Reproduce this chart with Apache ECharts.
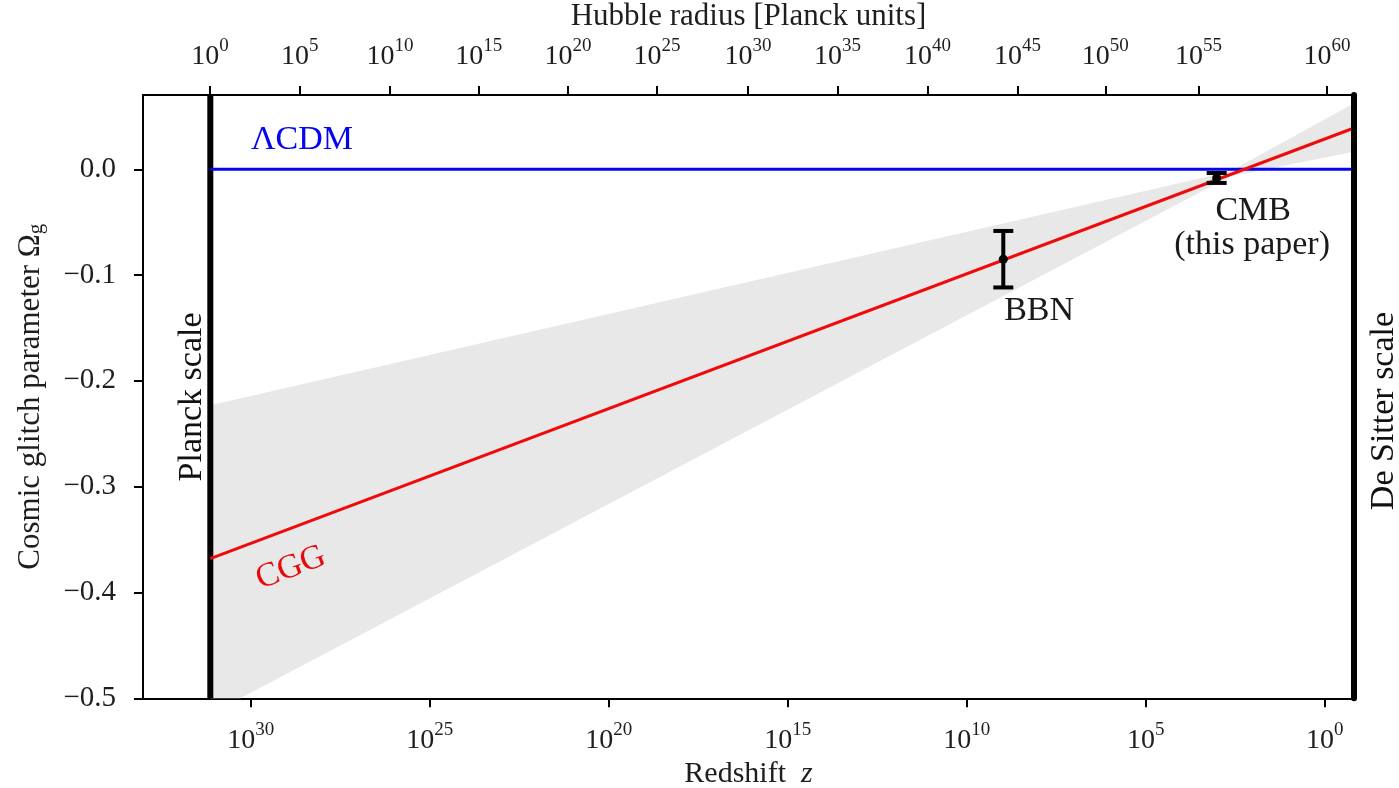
<!DOCTYPE html>
<html><head><meta charset="utf-8">
<script src="https://cdn.jsdelivr.net/npm/echarts@6/dist/echarts.min.js"></script>
<style>html,body{margin:0;padding:0;background:#fff}#c{width:1399px;height:788px}</style>
</head><body><div id="c"></div>
<script>
// horizontal coordinate: log10(redshift z), axis drawn reversed
const zTickExponents = [30, 25, 20, 15, 10, 5, 0];
const hubbleTickExponents = [0, 5, 10, 15, 20, 25, 30, 35, 40, 45, 50, 55, 60];
const hubbleTickLogZ = [31.14, 28.63, 26.11, 23.63, 21.14, 18.65, 16.11, 13.61, 11.10, 8.58, 6.13, 3.53, -0.06];
const yTicks = [0, -0.1, -0.2, -0.3, -0.4, -0.5];
const xRange = [-0.816, 33.01];
const yRange = [-0.5, 0.0702];

const planckLogZ = 31.13;
const lcdmLogZ = [31.13, -0.816];
const lcdmValue = [0, 0];
const cggLogZ = [31.13, -0.816];
const cggValue = [-0.368, 0.039];
const bandUpperLogZ = [31.13, 2.65, -0.816];
const bandUpper = [-0.223, -0.0021, 0.0625];
const bandLowerLogZ = [31.13, 30.29, 2.65, -0.816];
const bandLower = [-0.5, -0.5, -0.0068, 0.0165];
const measNames = ['BBN', 'CMB'];
const measLogZ = [8.98, 3.02];
const measValue = [-0.085, -0.0082];
const measErr = [0.0267, 0.0047];

const annTexts = ['ΛCDM', 'CGG', 'BBN', 'CMB', '(this paper)', 'Planck scale', 'De Sitter scale'];
const annLogZ = [28.57, 28.88, 7.98, 2.0, 2.03, 31.64, -1.66];
const annValue = [0.0277, -0.3768, -0.1339, -0.0394, -0.0716, -0.2152, -0.2285];
const annColor = ['#0505f0', '#e60a0a', '#1a1a1a', '#1a1a1a', '#1a1a1a', '#111', '#111'];
const annRotate = [0, 20.6, 0, 0, 0, 90, 90];

const FONT = 'Liberation Serif';
const TXT = '#1e1e1e';
const supRich = {
  b: {fontFamily: FONT, fontSize: 28, lineHeight: 34, color: TXT, verticalAlign: 'bottom'},
  s: {fontFamily: FONT, fontSize: 19, lineHeight: 21, color: TXT, verticalAlign: 'top'}
};
function pow10(e) { return '{b|10}{s|' + e + '}'; }

const chart = echarts.init(document.getElementById('c'));
const zip = (a, b) => a.map((v, i) => [v, b[i]]);

const option = {
  animation: false,
  backgroundColor: '#fff',
  grid: {left: 143, top: 95, width: 1211, height: 603.3, containLabel: false, outerBoundsMode: 'none'},
  xAxis: [{
    type: 'value', position: 'bottom', inverse: true, min: xRange[0], max: xRange[1],
    splitLine: {show: false},
    axisLine: {show: true, onZero: false, lineStyle: {color: '#000', width: 2}},
    axisTick: {show: true, inside: false, length: 9, customValues: zTickExponents, lineStyle: {color: '#000', width: 2}},
    axisLabel: {customValues: zTickExponents, margin: 22, formatter: v => pow10(Math.round(v)), rich: supRich},
    name: '{t|Redshift  }{i|z}', nameLocation: 'middle', nameGap: 58,
    nameTextStyle: {rich: {t: {fontFamily: FONT, fontSize: 30, color: TXT}, i: {fontFamily: FONT, fontStyle: 'italic', fontSize: 30, color: TXT}}}
  }, {
    type: 'value', position: 'top', inverse: true, min: xRange[0], max: xRange[1],
    splitLine: {show: false},
    axisLine: {show: true, onZero: false, lineStyle: {color: '#000', width: 2}},
    axisTick: {show: true, inside: false, length: 9, customValues: hubbleTickLogZ, lineStyle: {color: '#000', width: 2}},
    axisLabel: {customValues: hubbleTickLogZ, margin: 24, rich: supRich,
      formatter: v => { let k = 0, d = 1e9; hubbleTickLogZ.forEach((p, i) => { if (Math.abs(p - v) < d) { d = Math.abs(p - v); k = i; } }); return pow10(hubbleTickExponents[k]); }},
    name: 'Hubble radius [Planck units]', nameLocation: 'middle', nameGap: 59,
    nameTextStyle: {fontFamily: FONT, fontSize: 31, color: TXT}
  }],
  yAxis: [{
    type: 'value', position: 'left', min: yRange[0], max: yRange[1],
    splitLine: {show: false},
    axisLine: {show: true, onZero: false, lineStyle: {color: '#000', width: 2}},
    axisTick: {show: true, inside: false, length: 9, customValues: yTicks, lineStyle: {color: '#000', width: 2}},
    axisLabel: {customValues: yTicks, margin: 27, fontFamily: FONT, fontSize: 29, color: TXT,
      formatter: v => (Math.abs(v) < 1e-9 ? '0.0' : v.toFixed(1).replace('-', '\u2212'))},
    name: '{t|Cosmic glitch parameter Ω}{s|g}', nameLocation: 'middle', nameRotate: 90, nameGap: 96,
    nameTextStyle: {rich: {t: {fontFamily: FONT, fontSize: 31, color: TXT, verticalAlign: 'top', lineHeight: 32}, s: {fontFamily: FONT, fontSize: 21, color: TXT, verticalAlign: 'bottom', lineHeight: 16}}}
  }, {
    type: 'value', position: 'right', min: yRange[0], max: yRange[1], z: 10,
    splitLine: {show: false},
    axisLine: {show: true, onZero: false, lineStyle: {color: '#000', width: 6}},
    axisTick: {show: false}, axisLabel: {show: false}
  }],
  series: [
    {
      type: 'custom', name: 'band', xAxisIndex: 0, yAxisIndex: 0, z: 1, silent: true,
      data: [[bandUpperLogZ[0], bandUpper[0]]],
      encode: {x: 0, y: 1},
      renderItem: (params, api) => {
        const pts = [];
        bandUpperLogZ.forEach((x, i) => pts.push(api.coord([x, bandUpper[i]])));
        for (let i = bandLowerLogZ.length - 1; i >= 0; i--) pts.push(api.coord([bandLowerLogZ[i], bandLower[i]]));
        return {type: 'polygon', shape: {points: pts}, style: {fill: '#e7e8e7'}};
      }
    },
    {
      type: 'line', name: 'Planck', data: [[planckLogZ, yRange[0]], [planckLogZ, yRange[1]]],
      symbol: 'none', lineStyle: {color: '#000', width: 6}, z: 3, silent: true
    },
    {
      type: 'line', name: 'LCDM', data: zip(lcdmLogZ, lcdmValue),
      symbol: 'none', lineStyle: {color: '#0505f0', width: 3}, z: 4, silent: true
    },
    {
      type: 'line', name: 'CGG', data: zip(cggLogZ, cggValue),
      symbol: 'none', lineStyle: {color: '#f00a0a', width: 3}, z: 5, silent: true
    },
    {
      type: 'custom', name: 'measurements', z: 6, silent: true,
      data: measLogZ.map((x, i) => [x, measValue[i], measErr[i]]),
      encode: {x: 0, y: 1},
      renderItem: (params, api) => {
        const n = api.value(0), v = api.value(1), e = api.value(2);
        const t = api.coord([n, v + e]), b = api.coord([n, v - e]), c = api.coord([n, v]);
        const hw = 10, lw = 4;
        return {type: 'group', children: [
          {type: 'line', shape: {x1: t[0], y1: t[1], x2: b[0], y2: b[1]}, style: {stroke: '#000', lineWidth: lw}},
          {type: 'line', shape: {x1: t[0] - hw, y1: t[1], x2: t[0] + hw, y2: t[1]}, style: {stroke: '#000', lineWidth: lw}},
          {type: 'line', shape: {x1: b[0] - hw, y1: b[1], x2: b[0] + hw, y2: b[1]}, style: {stroke: '#000', lineWidth: lw}},
          {type: 'circle', shape: {cx: c[0], cy: c[1], r: 4.5}, style: {fill: '#000'}}
        ]};
      }
    },
    {
      type: 'custom', name: 'annotations', z: 7, silent: true, clip: false,
      data: annTexts.map((t, i) => [annLogZ[i], annValue[i], i]),
      encode: {x: 0, y: 1},
      renderItem: (params, api) => {
        const i = api.value(2);
        const p = api.coord([api.value(0), api.value(1)]);
        return {type: 'text', x: p[0], y: p[1], rotation: annRotate[i] * Math.PI / 180,
          style: {text: annTexts[i], fill: annColor[i], fontFamily: FONT, fontSize: 34, align: 'center', verticalAlign: 'middle'}};
      }
    }
  ]
};
chart.setOption(option);
</script></body></html>
